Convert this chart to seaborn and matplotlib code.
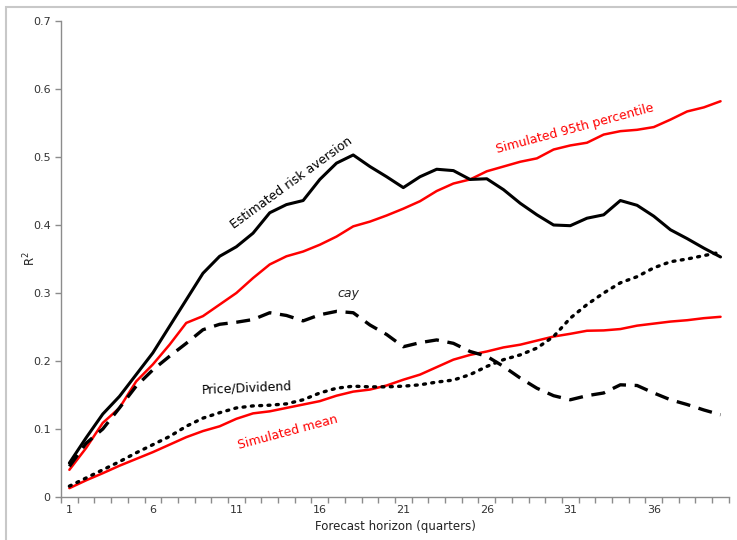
import numpy as np
import pandas as pd
import matplotlib.pyplot as plt
import seaborn as sns
from matplotlib.patches import Rectangle

horizon = list(range(1, 41))

risk_aversion = [0.050, 0.087, 0.122, 0.148, 0.180, 0.212, 0.251, 0.290, 0.329, 0.354,
                 0.368, 0.388, 0.418, 0.430, 0.436, 0.467, 0.491, 0.503, 0.486, 0.471,
                 0.455, 0.471, 0.482, 0.480, 0.467, 0.468, 0.452, 0.432, 0.415, 0.400,
                 0.399, 0.410, 0.415, 0.436, 0.429, 0.413, 0.393, 0.380, 0.366, 0.353]

sim_95 = [0.040, 0.072, 0.109, 0.131, 0.170, 0.195, 0.224, 0.256, 0.266, 0.283,
          0.300, 0.322, 0.342, 0.354, 0.361, 0.371, 0.383, 0.398, 0.405, 0.414,
          0.424, 0.435, 0.450, 0.461, 0.467, 0.479, 0.486, 0.493, 0.498, 0.511,
          0.517, 0.521, 0.533, 0.538, 0.540, 0.544, 0.555, 0.567, 0.573, 0.582]

cay = [0.045, 0.079, 0.100, 0.131, 0.163, 0.187, 0.207, 0.226, 0.246, 0.254,
       0.257, 0.261, 0.271, 0.267, 0.259, 0.268, 0.273, 0.271, 0.253, 0.239,
       0.221, 0.227, 0.231, 0.226, 0.214, 0.207, 0.192, 0.175, 0.160, 0.149,
       0.143, 0.149, 0.153, 0.165, 0.164, 0.153, 0.143, 0.136, 0.128, 0.121]

price_dividend = [0.016, 0.028, 0.040, 0.052, 0.065, 0.077, 0.089, 0.104, 0.116, 0.124,
                  0.131, 0.134, 0.135, 0.137, 0.143, 0.153, 0.160, 0.163, 0.162, 0.162,
                  0.163, 0.165, 0.169, 0.172, 0.180, 0.192, 0.202, 0.209, 0.219, 0.236,
                  0.263, 0.283, 0.300, 0.315, 0.324, 0.337, 0.346, 0.350, 0.355, 0.360]

sim_mean = [0.013, 0.0245, 0.035, 0.046, 0.056, 0.066, 0.077, 0.088, 0.097, 0.104,
            0.115, 0.123, 0.126, 0.131, 0.136, 0.141, 0.149, 0.155, 0.158, 0.164,
            0.1725, 0.180, 0.191, 0.202, 0.209, 0.214, 0.220, 0.224, 0.230, 0.236,
            0.240, 0.2445, 0.245, 0.247, 0.252, 0.255, 0.258, 0.260, 0.263, 0.265]

df = pd.DataFrame({"h": horizon, "risk": risk_aversion, "p95": sim_95,
                   "cay": cay, "pd": price_dividend, "mean": sim_mean})

sns.set_style("white")
plt.rcParams['font.family'] = ['DejaVu Sans']

fig = plt.figure(figsize=(7.37, 5.40), dpi=100)
ax = fig.add_axes([0.0828, 0.0796, 0.9062, 0.8815])

red = "#ff0000"
sns.lineplot(data=df, x="h", y="mean", color=red, lw=1.8, ax=ax)
sns.lineplot(data=df, x="h", y="p95", color=red, lw=1.8, ax=ax)
sns.lineplot(data=df, x="h", y="pd", color="black", lw=2.4, ax=ax,
             linestyle=(0, (0.6, 1.9)), dash_capstyle="round")
sns.lineplot(data=df, x="h", y="cay", color="black", lw=2.4, ax=ax,
             linestyle=(0, (4.2, 2.6)))
sns.lineplot(data=df, x="h", y="risk", color="black", lw=2.2, ax=ax)

ax.set_xlim(0.5, 40.5)
ax.set_ylim(0, 0.7)
ax.set_xticks(range(1, 41, 5))
ax.set_xticks(np.arange(0.5, 41, 1), minor=True)
ax.set_yticks(np.arange(0, 0.71, 0.1))
ax.set_yticklabels(["0", "0.1", "0.2", "0.3", "0.4", "0.5", "0.6", "0.7"])

for s in ["top", "right"]:
    ax.spines[s].set_visible(False)
for s in ["left", "bottom"]:
    ax.spines[s].set_color("#8c8c8c")
    ax.spines[s].set_linewidth(1.0)

ax.tick_params(axis="x", which="major", length=0, pad=6, labelsize=8, colors="#333333")
ax.tick_params(axis="x", which="minor", length=4, width=1, color="#8c8c8c", direction="out")
ax.tick_params(axis="y", which="major", length=4, width=1, color="#8c8c8c",
               direction="out", labelsize=8, labelcolor="#333333")
ax.tick_params(axis="both", bottom=True, left=True)
ax.xaxis.set_tick_params(which="minor", bottom=True)

ax.set_xlabel("Forecast horizon (quarters)", fontsize=8.5, color="#222222", labelpad=3)
ax.set_ylabel("R$^2$", fontsize=8.5, color="#222222")
ax.yaxis.set_label_coords(-0.034, 0.5)

ax.text(14.3, 0.462, "Estimated risk aversion", rotation=36, fontsize=9,
        ha="center", va="center", color="black")
ax.text(31.3, 0.541, "Simulated 95th percentile", rotation=15, fontsize=9,
        ha="center", va="center", color=red)
ax.text(17.7, 0.30, "cay", fontsize=9, style="italic", ha="center", va="center")
ax.text(11.6, 0.160, "Price/Dividend", rotation=2.5, fontsize=9,
        ha="center", va="center", color="black")
ax.text(14.1, 0.095, "Simulated mean", rotation=15, fontsize=9,
        ha="center", va="center", color=red)

fig.patches.append(Rectangle((6 / 737, -0.1), 1.2, 533 / 540 + 0.1,
                             transform=fig.transFigure, fill=False,
                             edgecolor="#c8c8c8", lw=1.5))

fig.savefig("out.png", dpi=100)
